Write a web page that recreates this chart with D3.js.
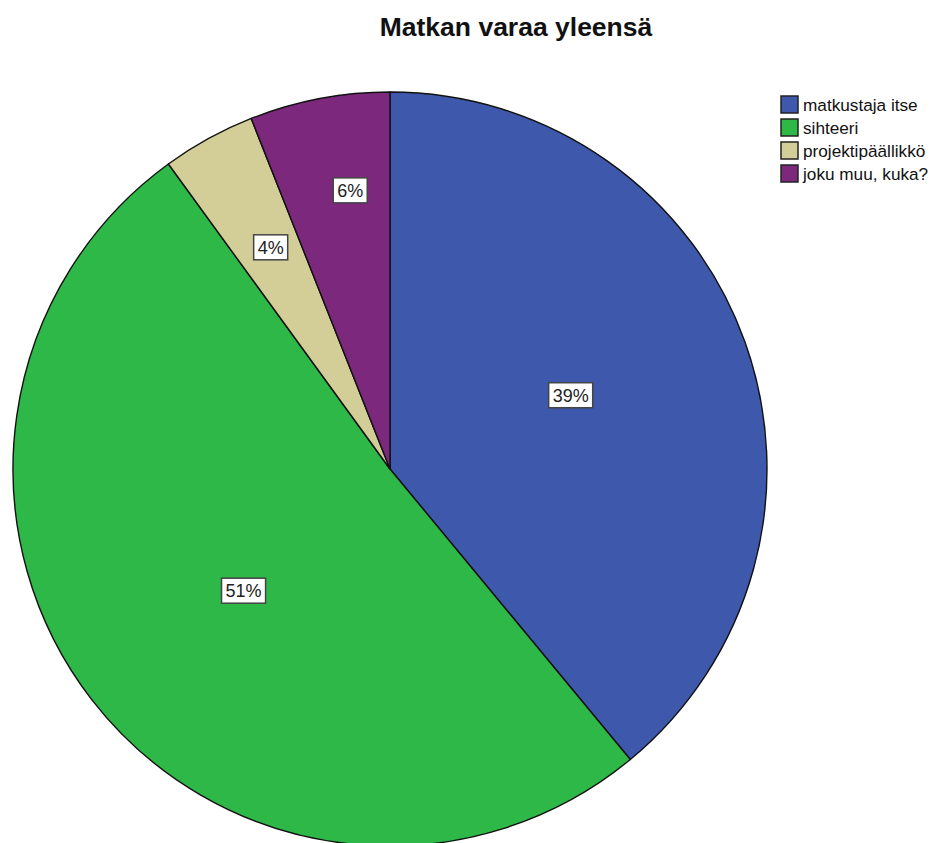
<!DOCTYPE html>
<html>
<head>
<meta charset="utf-8">
<script src="https://cdn.jsdelivr.net/npm/d3@7"></script>
<style>
  html, body { margin: 0; padding: 0; background: #fff; }
  svg { display: block; font-family: Arial, "Liberation Sans", sans-serif; }
</style>
</head>
<body>
<svg id="chart" width="934" height="843"></svg>
<script>
// Who usually books the trip
const title = "Matkan varaa yleensä";
const categories = ["matkustaja itse", "sihteeri", "projektipäällikkö", "joku muu, kuka?"];
const percents = [39, 51, 4, 6];
const colors = ["#3E58AC", "#2EB848", "#D3CE97", "#7C287D"];

// layout
const W = 934, H = 843;
const cx = 390, cy = 469, R = 377;
// radial placement of each value label (share of the radius) plus a small nudge in px
const labelRadius = [0.515, 0.505, 0.668, 0.747];
const labelNudge = [[-2, -8], [4, 5], [2, -1], [13, -2]];

const svg = d3.select("#chart");

svg.append("text")
  .attr("x", 516).attr("y", 36)
  .attr("text-anchor", "middle")
  .attr("font-size", 26.5).attr("font-weight", "bold")
  .attr("fill", "#111")
  .text(title);

const pie = d3.pie().sort(null).value(d => d)(percents);
const arc = d3.arc().innerRadius(0).outerRadius(R);

const g = svg.append("g").attr("transform", `translate(${cx},${cy})`);

g.selectAll("path.slice").data(pie).join("path")
  .attr("class", "slice")
  .attr("d", arc)
  .attr("fill", (d, i) => colors[i])
  .attr("stroke", "#111")
  .attr("stroke-width", 1.4)
  .attr("stroke-linejoin", "round");

// value labels in white boxes
const labels = g.selectAll("g.lab").data(pie).join("g")
  .attr("class", "lab")
  .attr("transform", (d, i) => {
    const a = (d.startAngle + d.endAngle) / 2;
    const r = R * labelRadius[i];
    const x = r * Math.sin(a) + labelNudge[i][0];
    const y = -r * Math.cos(a) + labelNudge[i][1];
    return `translate(${x},${y})`;
  });

labels.each(function(d, i) {
  const sel = d3.select(this);
  const t = sel.append("text")
    .attr("text-anchor", "middle")
    .attr("dy", "0.35em")
    .attr("font-size", 18)
    .attr("fill", "#222")
    .text(percents[i] + "%");
  const bb = t.node().getBBox();
  sel.insert("rect", "text")
    .attr("x", bb.x - 4).attr("y", -12.5)
    .attr("width", bb.width + 8).attr("height", 25)
    .attr("fill", "#fff")
    .attr("stroke", "#444")
    .attr("stroke-width", 1.5);
});

// legend
const legend = svg.append("g").attr("transform", "translate(780,95)");
const rows = legend.selectAll("g").data(categories).join("g")
  .attr("transform", (d, i) => `translate(0,${i * 23})`);
rows.append("rect")
  .attr("x", 1).attr("y", 1)
  .attr("width", 17).attr("height", 17)
  .attr("fill", (d, i) => colors[i])
  .attr("stroke", "#222")
  .attr("stroke-width", 1.5);
rows.append("text")
  .attr("x", 23).attr("y", 9.5)
  .attr("dy", "0.35em")
  .attr("font-size", 17.2)
  .attr("fill", "#111")
  .text(d => d);
</script>
</body>
</html>
